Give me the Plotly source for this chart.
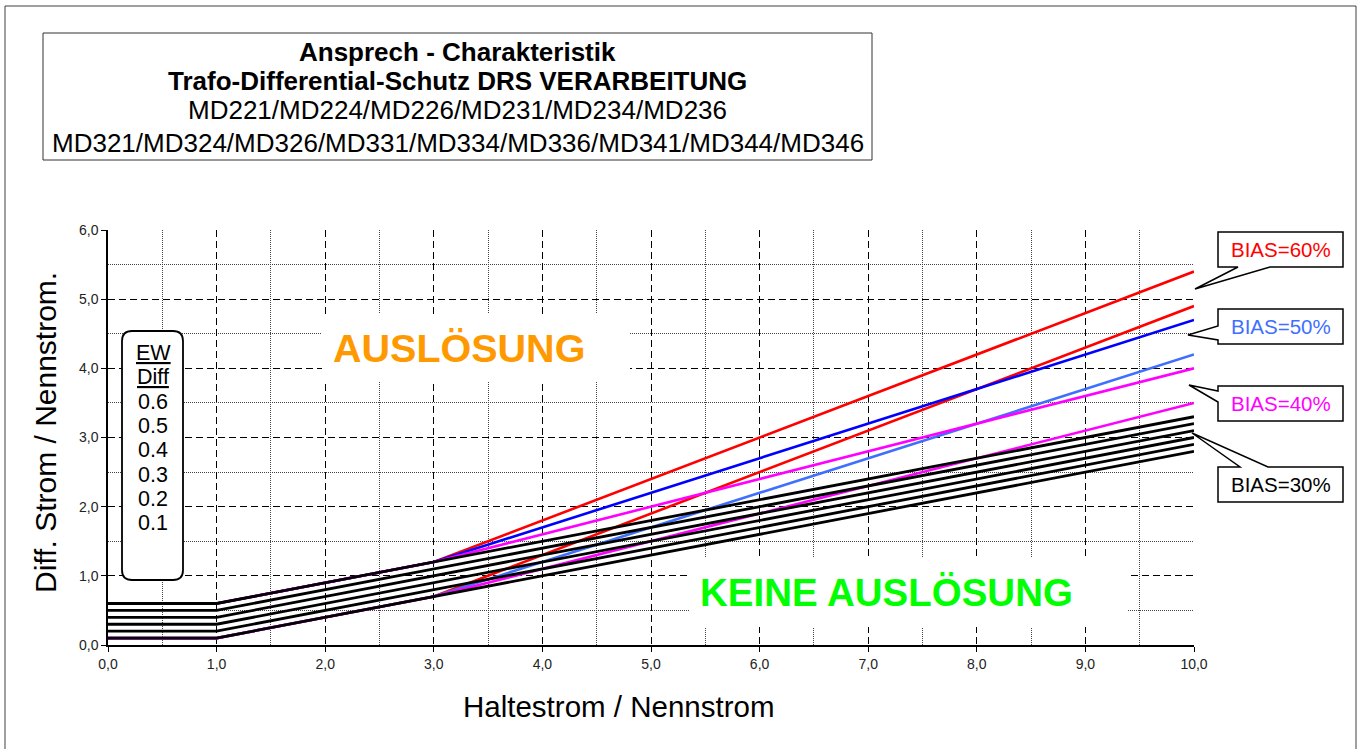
import plotly.graph_objects as go

# ---------------- data ----------------
ew_diff = [0.1, 0.2, 0.3, 0.4, 0.5, 0.6]

x_bias30 = [0.0, 1.0, 10.0]
y_bias30 = [
    [0.1, 0.1, 2.8],
    [0.2, 0.2, 2.9],
    [0.3, 0.3, 3.0],
    [0.4, 0.4, 3.1],
    [0.5, 0.5, 3.2],
    [0.6, 0.6, 3.3],
]

x_knee = [0.0, 1.0, 3.0, 10.0]
y_bias40 = [[0.6, 0.6, 1.2, 4.0], [0.1, 0.1, 0.7, 3.5]]
y_bias50 = [[0.6, 0.6, 1.2, 4.7], [0.1, 0.1, 0.7, 4.2]]
y_bias60 = [[0.6, 0.6, 1.2, 5.4], [0.1, 0.1, 0.7, 4.9]]

bias_labels = ["BIAS=60%", "BIAS=50%", "BIAS=40%", "BIAS=30%"]

title_lines = [
    "<b>Ansprech - Charakteristik</b>",
    "<b>Trafo-Differential-Schutz DRS VERARBEITUNG</b>",
    "MD221/MD224/MD226/MD231/MD234/MD236",
    "MD321/MD324/MD326/MD331/MD334/MD336/MD341/MD344/MD346",
]
x_title = "Haltestrom / Nennstrom"
y_title = "Diff. Strom / Nennstrom."
zone_trip = "AUSLÖSUNG"
zone_notrip = "KEINE AUSLÖSUNG"

# ---------------- layout helpers ----------------
W, H = 1364, 749
ML, MR, MT, MB = 108, 170, 230, 104
PW = W - ML - MR
PH = H - MT - MB
FONT = "Liberation Sans, Arial, sans-serif"


def px(x):
    return (x - ML) / PW


def py(y):
    return (H - MB - y) / PH


def poly(points):
    s = "M " + " L ".join(f"{px(a):.5f},{py(b):.5f}" for a, b in points) + " Z"
    return s


def rounded_rect(x0, y0, x1, y1, r):
    rx = r / PW
    ry = r / PH
    X0, X1 = px(x0), px(x1)
    Y0, Y1 = py(y0), py(y1)  # Y0 top (bigger), Y1 bottom
    return (
        f"M {X0 + rx},{Y0} L {X1 - rx},{Y0} Q {X1},{Y0} {X1},{Y0 - ry} "
        f"L {X1},{Y1 + ry} Q {X1},{Y1} {X1 - rx},{Y1} "
        f"L {X0 + rx},{Y1} Q {X0},{Y1} {X0},{Y1 + ry} "
        f"L {X0},{Y0 - ry} Q {X0},{Y0} {X0 + rx},{Y0} Z"
    )


fig = go.Figure()

# coloured characteristic lines (drawn below the black ones)
for yy in y_bias60:
    fig.add_trace(go.Scatter(x=x_knee, y=yy, mode="lines",
                             line=dict(color="#FF0000", width=2.6), showlegend=False, hoverinfo="skip"))
for yy, c in zip(y_bias50, ["#0000FF", "#3F6FFF"]):
    fig.add_trace(go.Scatter(x=x_knee, y=yy, mode="lines",
                             line=dict(color=c, width=2.6), showlegend=False, hoverinfo="skip"))
for yy in y_bias40:
    fig.add_trace(go.Scatter(x=x_knee, y=yy, mode="lines",
                             line=dict(color="#FF00FF", width=2.6), showlegend=False, hoverinfo="skip"))
for yy in y_bias30:
    fig.add_trace(go.Scatter(x=x_bias30, y=yy, mode="lines",
                             line=dict(color="#000000", width=2.8), showlegend=False, hoverinfo="skip"))

axis_common = dict(
    showgrid=True, gridcolor="#000000", gridwidth=1, griddash="7px,4px",
    minor=dict(dtick=0.5, showgrid=True, gridcolor="#444444", gridwidth=1, griddash="1px,1px"),
    showline=True, linecolor="#000000", linewidth=1.5,
    ticks="outside", ticklen=5, tickcolor="#000000", tickwidth=1,
    zeroline=False, tickformat=".1f",
    tickfont=dict(family=FONT, size=14, color="#222222"),
    tickmode="linear", tick0=0, dtick=1,
)

fig.update_xaxes(range=[0, 10], **axis_common)
fig.update_yaxes(range=[0, 6], **axis_common)

shapes = []
# outer frame
shapes.append(dict(type="rect", xref="paper", yref="paper", x0=px(5), x1=px(1356), y0=py(760), y1=py(6),
                   line=dict(color="#404040", width=1), fillcolor="rgba(0,0,0,0)", layer="below"))
# title box
shapes.append(dict(type="rect", xref="paper", yref="paper", x0=px(43), x1=px(872), y0=py(160), y1=py(33),
                   line=dict(color="#333333", width=1), fillcolor="white", layer="above"))
# EW Diff box
shapes.append(dict(type="path", xref="paper", yref="paper", path=rounded_rect(122, 331, 183, 580, 10),
                   line=dict(color="#000000", width=1.8), fillcolor="white", layer="above"))

# BIAS callouts
callouts = [
    [(1218, 232), (1343, 232), (1343, 267), (1270, 267), (1195, 289), (1238, 267), (1218, 267)],
    [(1218, 309), (1343, 309), (1343, 344), (1218, 344), (1218, 340), (1188, 335), (1218, 326)],
    [(1218, 386), (1343, 386), (1343, 421), (1218, 421), (1218, 402), (1189, 385), (1218, 391)],
    [(1218, 467), (1240, 467), (1192, 433), (1268, 467), (1343, 467), (1343, 502), (1218, 502)],
]
for pts in callouts:
    shapes.append(dict(type="path", xref="paper", yref="paper", path=poly(pts),
                       line=dict(color="#000000", width=1.5), fillcolor="white", layer="above"))

ann = []
# title text
for t, yc in zip(title_lines, [52, 81, 109.5, 143.5]):
    ann.append(dict(text=t, xref="paper", yref="paper", x=px(457.5), y=py(yc), xanchor="center",
                    yanchor="middle", showarrow=False, font=dict(family=FONT, size=26, color="#000000")))
# axis titles
ann.append(dict(text=x_title, xref="paper", yref="paper", x=px(618), y=py(706), xanchor="center",
                yanchor="middle", showarrow=False, font=dict(family=FONT, size=29.5, color="#000000")))
ann.append(dict(text=y_title, xref="paper", yref="paper", x=px(45), y=py(433), xanchor="center",
                yanchor="middle", showarrow=False, textangle=-90,
                font=dict(family=FONT, size=30, color="#000000")))
# zone labels
ann.append(dict(text="<b>" + zone_trip + "</b>", xref="paper", yref="paper", x=px(476), y=py(348),
                xanchor="center", yanchor="middle", showarrow=False, width=286, height=46, borderpad=11,
                borderwidth=0, bgcolor="white", align="left",
                font=dict(family=FONT, size=39.5, color="#FF9900")))
ann.append(dict(text="<b>" + zone_notrip + "</b>", xref="paper", yref="paper", x=px(908), y=py(592),
                xanchor="center", yanchor="middle", showarrow=False, width=416, height=47, borderpad=11,
                borderwidth=0, bgcolor="white", align="left",
                font=dict(family=FONT, size=38.5, color="#00FF00")))
# EW Diff legend text
ew_lines = ["<u>EW</u>", "<u>Diff</u>"] + [f"{v:.1f}" for v in sorted(ew_diff, reverse=True)]
for i, t in enumerate(ew_lines):
    ann.append(dict(text=t, xref="paper", yref="paper", x=px(153), y=py(353 + 24.3 * i), xanchor="center",
                    yanchor="middle", showarrow=False, font=dict(family=FONT, size=21.5, color="#000000")))
# BIAS labels
for t, yc, c in zip(bias_labels, [249.5, 326.5, 403.5, 484.5], ["#FF0000", "#3F6FFF", "#FF00FF", "#000000"]):
    ann.append(dict(text=t, xref="paper", yref="paper", x=px(1281), y=py(yc), xanchor="center",
                    yanchor="middle", showarrow=False, font=dict(family=FONT, size=20.5, color=c)))

fig.update_layout(
    width=W, height=H,
    margin=dict(l=ML, r=MR, t=MT, b=MB, pad=0),
    paper_bgcolor="white", plot_bgcolor="white",
    separators=",.",
    showlegend=False,
    shapes=shapes,
    annotations=ann,
    font=dict(family=FONT),
)

fig.write_html("out.html",
               config={"displayModeBar": False},
               post_script="document.body.style.margin='0';document.body.style.overflow='hidden';")
